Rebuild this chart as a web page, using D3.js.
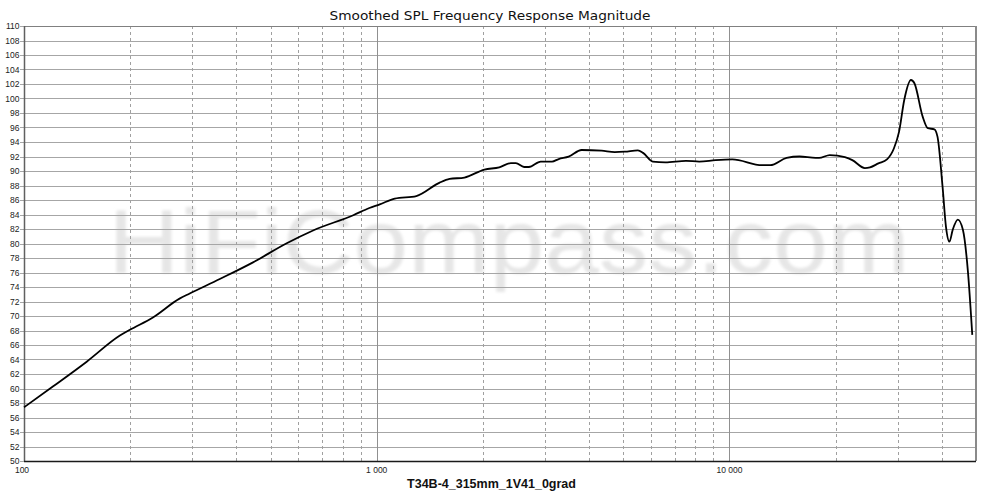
<!DOCTYPE html>
<html>
<head>
<meta charset="utf-8">
<script src="https://cdn.jsdelivr.net/npm/d3@7"></script>
<style>
  html, body { margin: 0; padding: 0; background: #fff; }
  svg { display: block; }
</style>
</head>
<body>
<svg id="chart" width="1000" height="498"></svg>
<script>
// ---- data ----
const title = "Smoothed SPL Frequency Response Magnitude";
const xAxisTitle = "T34B-4_315mm_1V41_0grad";
const watermark = "HiFiCompass.com";
const freqDomain = [100, 50000];
const splDomain = [50, 110];
const yTicks = d3.range(50, 111, 2);
const xMajorTicks = [100, 1000, 10000];
const xMajorLabels = ["100", "1 000", "10 000"];
const xMinorTicks = [200,300,400,500,600,700,800,900,2000,3000,4000,5000,6000,7000,8000,9000,20000,30000,40000];

const freq = [100, 121, 150.6, 187, 199.7, 232, 276, 295, 359, 446, 554, 660, 858, 953, 1020, 1125, 1295, 1508, 1609, 1773, 2020, 2225, 2400, 2480, 2617, 2700, 2916, 3140, 3280, 3500, 3810, 4340, 4730, 5050, 5500, 5690, 6060, 6580, 7530, 8210, 9140, 10190, 12370, 13050, 14520, 15800, 17550, 17950, 19250, 21250, 22300, 24200, 25030, 26440, 27960, 29250, 30250, 31300, 32700, 33450, 35300, 36500, 38100, 38900, 40200, 41100, 42040, 42950, 44400, 45900, 47400, 48800];
const spl = [57.4, 60.3, 63.7, 67.3, 68.1, 69.8, 72.4, 73.1, 75.1, 77.4, 80.0, 81.8, 83.9, 84.9, 85.4, 86.2, 86.55, 88.4, 88.9, 89.1, 90.2, 90.5, 91.1, 91.1, 90.55, 90.55, 91.3, 91.3, 91.65, 91.97, 92.9, 92.8, 92.6, 92.66, 92.85, 92.5, 91.3, 91.2, 91.4, 91.3, 91.5, 91.6, 90.8, 90.8, 91.8, 92.0, 91.8, 91.8, 92.2, 91.9, 91.5, 90.4, 90.5, 91.05, 91.6, 93.1, 95.4, 99.8, 102.55, 102.1, 97.5, 95.9, 95.75, 94.7, 87.8, 82.3, 80.25, 81.9, 83.3, 81.9, 76.3, 67.4];

// ---- layout ----
const pL = 24, pR = 976, pT = 26, pB = 461;

const svg = d3.select("#chart");
const x = d3.scaleLog().domain(freqDomain).range([pL, pR]);
const y = d3.scaleLinear().domain(splDomain).range([pB, pT]);

// watermark
svg.append("defs").append("filter").attr("id", "soft")
  .append("feGaussianBlur").attr("stdDeviation", 1.4);
svg.append("text")
  .attr("x", 509).attr("y", 273)
  .attr("text-anchor", "middle")
  .attr("font-family", "Liberation Sans, Arial, sans-serif")
  .attr("font-size", 91)
  .attr("textLength", 801)
  .attr("lengthAdjust", "spacingAndGlyphs")
  .attr("fill", "#e6e6e6")
  .attr("filter", "url(#soft)")
  .text(watermark);

// horizontal gridlines
svg.append("g").selectAll("line").data(yTicks).join("line")
  .attr("x1", pL - 4).attr("x2", pR)
  .attr("y1", d => Math.round(y(d)) + 0.5).attr("y2", d => Math.round(y(d)) + 0.5)
  .attr("stroke", "#a6a6a6").attr("stroke-width", 1.2);

// vertical minor (dashed)
svg.append("g").selectAll("line").data(xMinorTicks).join("line")
  .attr("x1", d => Math.round(x(d)) + 0.5).attr("x2", d => Math.round(x(d)) + 0.5)
  .attr("y1", pT).attr("y2", pB)
  .attr("stroke", "#a0a0a0").attr("stroke-width", 1)
  .attr("stroke-dasharray", "3,3");

// vertical major (solid)
svg.append("g").selectAll("line").data(xMajorTicks.slice(1)).join("line")
  .attr("x1", d => Math.round(x(d)) + 0.5).attr("x2", d => Math.round(x(d)) + 0.5)
  .attr("y1", pT).attr("y2", pB)
  .attr("stroke", "#909090").attr("stroke-width", 1);

// frame
svg.append("line").attr("x1", pL).attr("x2", pR).attr("y1", pT + 0.5).attr("y2", pT + 0.5)
  .attr("stroke", "#808080").attr("stroke-width", 1.2);
svg.append("line").attr("x1", pR).attr("x2", pR).attr("y1", pT).attr("y2", pB)
  .attr("stroke", "#8a8a8a").attr("stroke-width", 2);
svg.append("line").attr("x1", pL + 0.5).attr("x2", pL + 0.5).attr("y1", pT).attr("y2", pB)
  .attr("stroke", "#606060").attr("stroke-width", 1.5);
svg.append("line").attr("x1", pL).attr("x2", pR).attr("y1", pB + 0.5).attr("y2", pB + 0.5)
  .attr("stroke", "#1a1a1a").attr("stroke-width", 1.5);

// y tick labels
svg.append("g").selectAll("text").data(yTicks).join("text")
  .attr("x", 19.5).attr("y", d => y(d) + 3)
  .attr("text-anchor", "end")
  .attr("font-family", "Liberation Sans, Arial, sans-serif")
  .attr("font-size", 8.5).attr("fill", "#222")
  .text(d => d);

// x tick labels
svg.append("g").selectAll("text").data(xMajorTicks).join("text")
  .attr("x", (d, i) => x(d) + (i === 0 ? -2 : 0)).attr("y", 473)
  .attr("text-anchor", "middle")
  .attr("font-family", "Liberation Sans, Arial, sans-serif")
  .attr("font-size", 8.5).attr("fill", "#222")
  .text((d, i) => xMajorLabels[i]);

// title
svg.append("text")
  .attr("x", 490).attr("y", 20)
  .attr("text-anchor", "middle")
  .attr("font-family", "DejaVu Sans, Verdana, sans-serif")
  .attr("font-size", 12.5).attr("fill", "#111")
  .attr("textLength", 321).attr("lengthAdjust", "spacingAndGlyphs")
  .text(title);

// x axis title
svg.append("text")
  .attr("x", 491.5).attr("y", 488)
  .attr("text-anchor", "middle")
  .attr("font-family", "Liberation Sans, Arial, sans-serif")
  .attr("font-size", 12.5).attr("font-weight", "bold").attr("fill", "#111")
  .text(xAxisTitle);

// curve
const pts = freq.map((f, i) => [f, spl[i]]);
const line = d3.line().x(d => x(d[0])).y(d => y(d[1])).curve(d3.curveMonotoneX);
svg.append("path").attr("d", line(pts))
  .attr("fill", "none").attr("stroke", "#000").attr("stroke-width", 1.8)
  .attr("stroke-linejoin", "round");
</script>
</body>
</html>
